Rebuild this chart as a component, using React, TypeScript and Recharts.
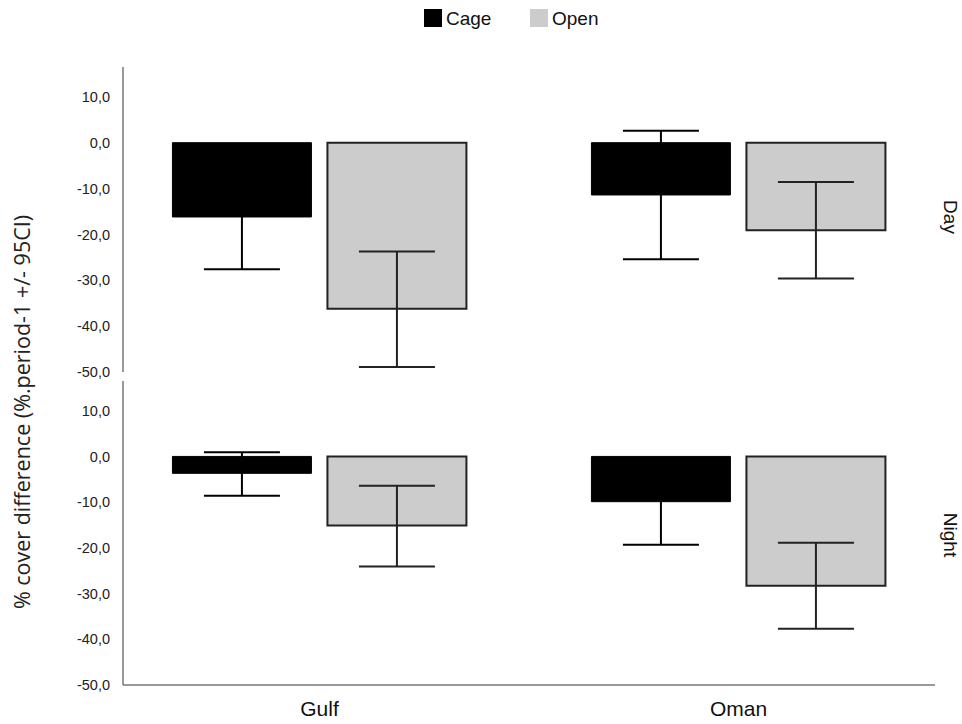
import React from 'react';
import { BarChart, Bar, XAxis, YAxis, ErrorBar } from 'recharts';

// categories and bar values (% cover difference)
const categories = ['Gulf', 'Oman'];
const dayCage = [-16.2, -11.4];
const dayCageLow = [-27.6, -25.4];
const dayCageHigh = [-4.8, 2.6];
const dayOpen = [-36.2, -19.1];
const dayOpenLow = [-48.9, -29.6];
const dayOpenHigh = [-23.7, -8.6];
const nightCage = [-3.7, -9.9];
const nightCageLow = [-8.6, -19.3];
const nightCageHigh = [0.9, -0.5];
const nightOpen = [-15.1, -28.3];
const nightOpenLow = [-24.1, -37.7];
const nightOpenHigh = [-6.4, -18.9];
const yTicks = [-50, -40, -30, -20, -10, 0, 10];

const buildRows = (
  cage: number[], cageLow: number[], cageHigh: number[],
  open: number[], openLow: number[], openHigh: number[]
) =>
  categories.map((name, i) => ({
    name,
    cage: cage[i],
    cageErr: [cage[i] - cageLow[i], cageHigh[i] - cage[i]],
    open: open[i],
    openErr: [open[i] - openLow[i], openHigh[i] - open[i]],
  }));

const dayData = buildRows(dayCage, dayCageLow, dayCageHigh, dayOpen, dayOpenLow, dayOpenHigh);
const nightData = buildRows(nightCage, nightCageLow, nightCageHigh, nightOpen, nightOpenLow, nightOpenHigh);

const fmt = (v: number) => v.toFixed(1).replace('.', ',');
const axisColor = '#777';

const Panel: React.FC<{ data: any[]; height: number; top: number; bottom: number; showX: boolean }> = ({
  data, height, top, bottom, showX,
}) => (
  <BarChart
    width={962}
    height={height}
    data={data}
    margin={{ top, right: 27, left: 63, bottom }}
    barCategoryGap="14.9%"
    barGap={16}
  >
    <XAxis
      dataKey="name"
      axisLine={{ stroke: axisColor, strokeWidth: 1.5 }}
      tickLine={false}
      tick={showX ? { fontSize: 21, fill: '#111', fontFamily: 'Liberation Sans' } : false}
      tickSize={0}
      tickMargin={16}
      height={showX ? 32 : 0}
      padding={{ left: -13, right: -13 }}
    />
    <YAxis
      type="number"
      domain={[-50, 16.5]}
      ticks={yTicks}
      tickFormatter={fmt}
      width={60}
      axisLine={{ stroke: axisColor, strokeWidth: 1.5 }}
      tickLine={false}
      tickMargin={7}
      tick={{ fontSize: 14.5, fill: '#222', fontFamily: 'Liberation Sans' }}
      interval={0}
      allowDataOverflow
    />
    <Bar dataKey="cage" fill="#000" stroke="#000" strokeWidth={1} isAnimationActive={false}>
      <ErrorBar dataKey="cageErr" width={38} stroke="#000" strokeWidth={2} />
    </Bar>
    <Bar dataKey="open" fill="#cccccc" stroke="#222" strokeWidth={2} isAnimationActive={false}>
      <ErrorBar dataKey="openErr" width={38} stroke="#222" strokeWidth={2} />
    </Bar>
  </BarChart>
);

const App: React.FC = () => (
  <div style={{ position: 'absolute', left: 0, top: 0, width: 962, height: 724, background: '#fff', fontFamily: 'Liberation Sans' }}>
    {/* legend */}
    <div style={{ position: 'absolute', left: 424, top: 9, width: 18, height: 18, background: '#000' }} />
    <div style={{ position: 'absolute', left: 446, top: 8, fontSize: 19, color: '#111' }}>Cage</div>
    <div style={{ position: 'absolute', left: 530, top: 9, width: 18, height: 18, background: '#cccccc' }} />
    <div style={{ position: 'absolute', left: 552, top: 8, fontSize: 19, color: '#111' }}>Open</div>

    <div style={{ position: 'absolute', left: 0, top: 0 }}>
      <Panel data={dayData} height={380} top={67} bottom={8} showX={false} />
    </div>
    <div style={{ position: 'absolute', left: 0, top: 380 }}>
      <Panel data={nightData} height={344} top={1} bottom={7} showX />
    </div>

    {/* y axis title */}
    <div
      style={{
        position: 'absolute', left: 21, top: 412, transform: 'translate(-50%, -50%) rotate(-90deg)',
        whiteSpace: 'nowrap', fontSize: 21.5, color: '#222', fontFamily: 'Open Sans',
      }}
    >
      % cover difference (%.period-1 +/- 95CI)
    </div>

    {/* panel labels */}
    <div style={{ position: 'absolute', left: 950, top: 217, transform: 'translate(-50%, -50%) rotate(90deg)', fontSize: 19, color: '#111' }}>
      Day
    </div>
    <div style={{ position: 'absolute', left: 950, top: 535, transform: 'translate(-50%, -50%) rotate(90deg)', fontSize: 19, color: '#111' }}>
      Night
    </div>
  </div>
);

export default App;
